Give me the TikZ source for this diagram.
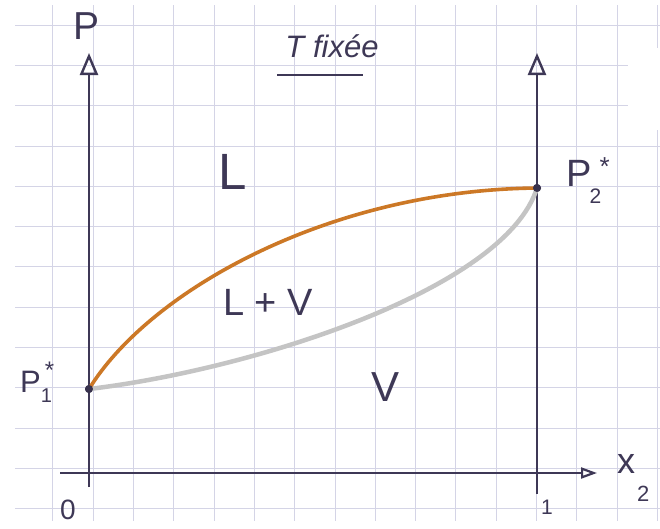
\documentclass[tikz,border=0pt]{standalone}
\usepackage{fontspec}
\setmainfont{Liberation Sans}
\usetikzlibrary{arrows.meta}
\definecolor{ink}{RGB}{62,56,86}
\definecolor{gridc}{RGB}{212,212,230}
\definecolor{liq}{RGB}{204,120,38}
\definecolor{vap}{RGB}{196,196,196}
\tikzset{
  axis/.style={draw=ink, line width=2.6pt, -{Triangle[open,length=22pt,width=18pt,line width=2.4pt]}},
  haxis/.style={draw=ink, line width=2.6pt, -{Triangle[open,length=16pt,width=11pt,line width=2.2pt]}},
  lbl/.style={text=ink, inner sep=0pt},
  ptdot/.style={circle, fill=ink!90!black, minimum size=8pt, inner sep=0pt},
}
\newcommand{\fsz}[1]{\fontsize{#1}{#1}\selectfont}
\begin{document}
\begin{tikzpicture}[x=1pt,y=-1pt]
\useasboundingbox (0,0) rectangle (660,528);
\fill[white] (0,0) rectangle (660,528);
% grid
\begin{scope}
\clip (15,5) rectangle (660,521);
\foreach \k in {0,...,16} {\draw[gridc, line width=0.8pt] ({12.5+40.3*\k},5) -- ({12.5+40.3*\k},521);}
\foreach \k in {0,...,12} {\draw[gridc, line width=0.8pt] (15,{25+40.3*\k}) -- (660,{25+40.3*\k});}
\end{scope}
\fill[white] (628,48) rectangle (660,130);
% axes
\coordinate (yb) at (89,487);
\coordinate (yt) at (89,53);
\coordinate (xl) at (60,473);
\coordinate (xr) at (597,473);
\coordinate (rb) at (537,494);
\coordinate (rt) at (537,53);
\draw[axis] (yb) -- (yt);
\draw[axis] (rb) -- (rt);
\draw[haxis] (xl) -- (xr);
% points
\node[ptdot] (p1) at (89,389) {};
\node[ptdot] (p2) at (537,188) {};
% curves
\draw[vap, line width=4.5pt, line cap=round] (p1.center) .. controls (250,370) and (505,290) .. (p2.center);
\draw[liq, line width=3.6pt, line cap=round] (p1.center) .. controls (150,290) and (330,190) .. (p2.center);
\node[ptdot] at (p1) {};
\node[ptdot] at (p2) {};
% labels
\node[lbl, font=\fsz{39}] (lP) at (87,26) {P};
\node[lbl, font=\fsz{31}\itshape] (lT) at (332,46) {T fixée};
\draw[ink, line width=2pt] (277,75) -- (363,75);
\node[lbl, font=\fsz{51}] (lL) at (233,172) {L};
\node[lbl, font=\fsz{38}] (lLV) at (268,302) {L + V};
\node[lbl, font=\fsz{42}] (lV) at (385,387) {V};
\node[lbl, anchor=base west] (lP1) at (20,392)
  {\fsz{31}P\rlap{\raisebox{-10pt}{\fsz{20}1}}\kern4pt\raisebox{14pt}{\fsz{24}*}};
\node[lbl, anchor=base west] (lP2) at (566,186)
  {\fsz{38}P\kern-2pt\rlap{\raisebox{-17pt}{\fsz{21}2}}\kern10pt\raisebox{11pt}{\fsz{26}*}};
\node[lbl, font=\fsz{28}] (l0) at (68,510) {0};
\node[lbl, font=\fsz{21}] (l1) at (547,507) {1};
\node[lbl, anchor=base west] (lx) at (617,473)
  {\fsz{36}x\kern2pt\raisebox{-28pt}{\fsz{22}2}};
\end{tikzpicture}
\end{document}
